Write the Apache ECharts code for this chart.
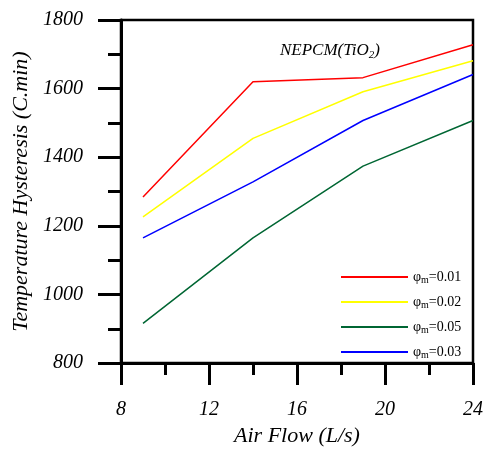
<!DOCTYPE html>
<html><head><meta charset="utf-8">
<script src="https://cdn.jsdelivr.net/npm/echarts@6/dist/echarts.min.js"></script>
<style>html,body{margin:0;padding:0;background:#fff}#c{width:488px;height:452px}</style>
</head><body><div id="c"></div>
<script>
const airFlow = [9, 14, 19, 24];
const seriesNames = ['φm=0.01', 'φm=0.02', 'φm=0.05', 'φm=0.03'];
const legendLabels = ['φ{s|m}=0.01', 'φ{s|m}=0.02', 'φ{s|m}=0.05', 'φ{s|m}=0.03'];
const phi001 = [1284, 1620, 1632, 1728];
const phi002 = [1226, 1455, 1591, 1681];
const phi005 = [916, 1165, 1374, 1507];
const phi003 = [1165, 1328, 1507, 1641];
const colors = ['#ff0000', '#ffff00', '#006633', '#0000ff'];
const values = [phi001, phi002, phi005, phi003];
const font = 'Liberation Serif';

const chart = echarts.init(document.getElementById('c'));
chart.setOption({
  animation: false,
  backgroundColor: '#fff',
  grid: { left: 121, right: 15, top: 20, bottom: 87, show: true, borderColor: '#000', borderWidth: 2.5 },
  title: {
    text: 'NEPCM(TiO{s|2})', left: 275, top: 36,
    textStyle: { fontFamily: font, fontStyle: 'italic', fontWeight: 'normal', fontSize: 17, color: '#000',
      rich: { s: { fontFamily: font, fontStyle: 'italic', fontSize: 11, verticalAlign: 'bottom', padding: [9, 0, 0, 0] } } }
  },
  legend: {
    orient: 'vertical', left: 336, top: 265, itemGap: 10, itemWidth: 67, itemHeight: 2, icon: 'rect',
    data: seriesNames,
    formatter: function (n) { return legendLabels[seriesNames.indexOf(n)]; },
    textStyle: { fontFamily: font, fontSize: 14, color: '#000',
      rich: { s: { fontFamily: font, fontSize: 10, verticalAlign: 'bottom', padding: [6, 0, 0, 0] } } }
  },
  xAxis: {
    type: 'value', min: 8, max: 24, interval: 4,
    name: 'Air Flow (L/s)', nameLocation: 'middle', nameGap: 58,
    nameTextStyle: { fontFamily: font, fontStyle: 'italic', fontSize: 22, color: '#000' },
    axisLine: { lineStyle: { color: '#000', width: 3 } },
    axisTick: { inside: false, length: 22, lineStyle: { color: '#000', width: 3 } },
    minorTick: { show: true, splitNumber: 2, length: 12, lineStyle: { color: '#000', width: 3 } },
    axisLabel: { margin: 37, fontFamily: font, fontStyle: 'italic', fontSize: 20, color: '#000',
      formatter: function (v) { return String(v); } },
    splitLine: { show: false }
  },
  yAxis: {
    type: 'value', min: 800, max: 1800, interval: 200,
    name: 'Temperature Hysteresis (C.min)', nameLocation: 'middle', nameGap: 86,
    nameTextStyle: { fontFamily: font, fontStyle: 'italic', fontSize: 22, color: '#000' },
    axisLine: { lineStyle: { color: '#000', width: 3 } },
    axisTick: { inside: false, length: 23, lineStyle: { color: '#000', width: 3 } },
    minorTick: { show: true, splitNumber: 2, length: 13, lineStyle: { color: '#000', width: 3 } },
    axisLabel: { margin: 38, fontFamily: font, fontStyle: 'italic', fontSize: 20, color: '#000',
      formatter: function (v) { return String(v); } },
    splitLine: { show: false }
  },
  series: seriesNames.map((n, i) => ({
    name: n, type: 'line', symbol: 'none',
    data: airFlow.map((x, j) => [x, values[i][j]]),
    lineStyle: { color: colors[i], width: 1.5 }, itemStyle: { color: colors[i] }
  }))
});
</script></body></html>
